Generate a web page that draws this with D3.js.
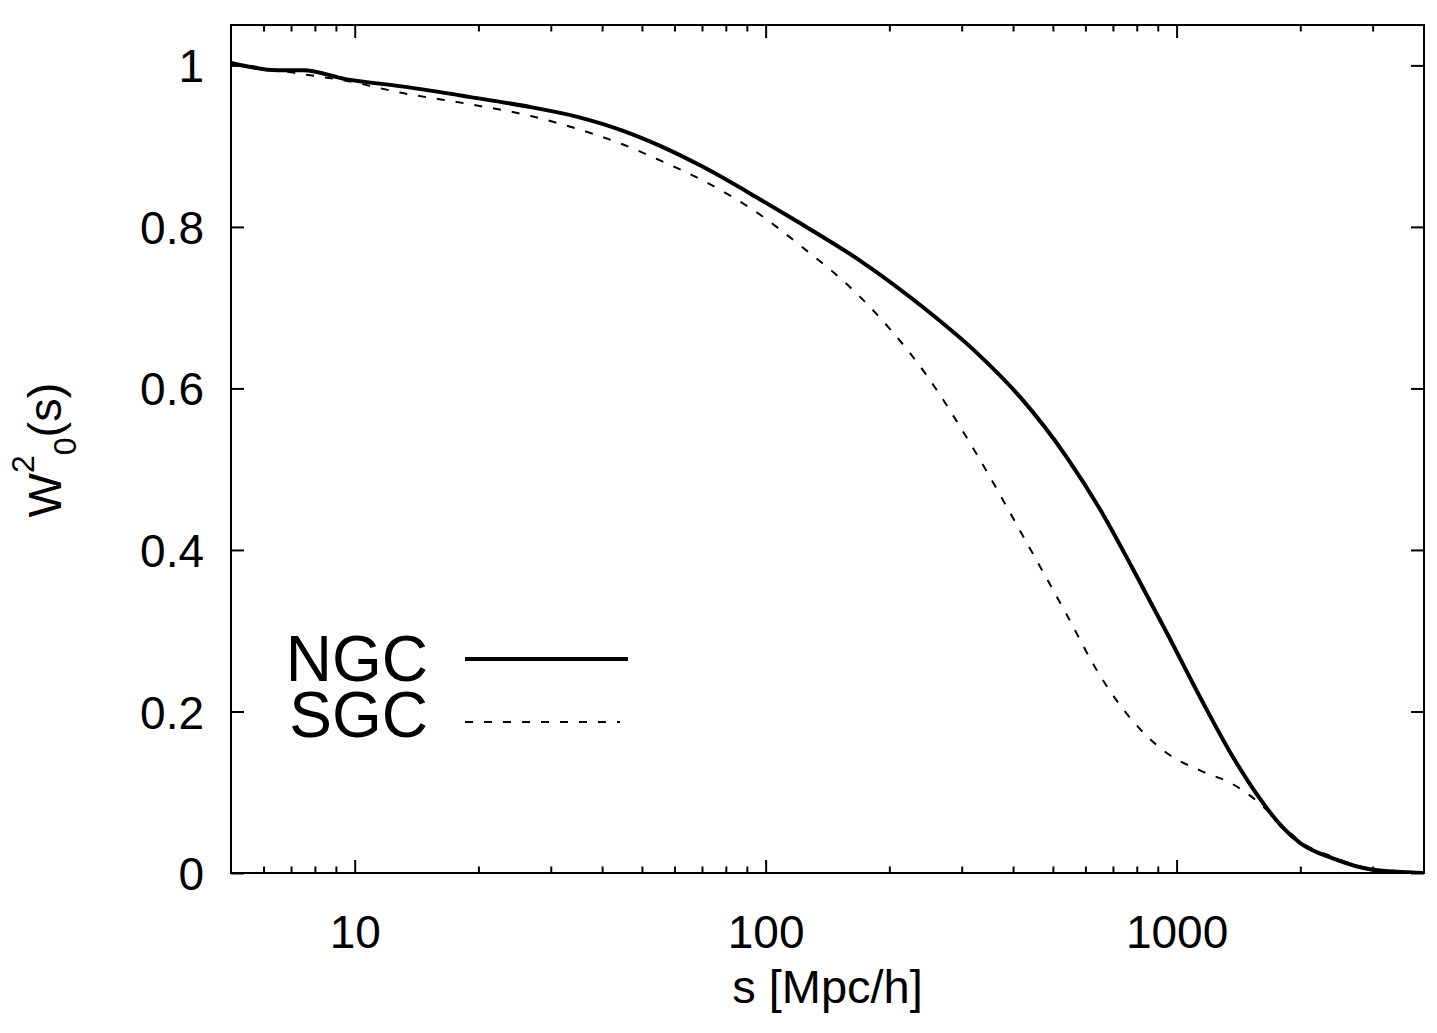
<!DOCTYPE html>
<html>
<head>
<meta charset="utf-8">
<title>W2_0(s)</title>
<script src="https://d3js.org/d3.v7.min.js"></script>
<style>
  body { margin: 0; background: #fff; }
  svg text { font-family: "Liberation Sans", Arial, Helvetica, sans-serif; fill: #000; }
</style>
</head>
<body>
<svg width="1437" height="1033"></svg>
<script>
// separation s [Mpc/h]
var sVals = [5, 6.5, 7.5, 9.5, 13, 19, 27, 35, 45, 55, 70, 97, 120, 170, 245, 325, 420, 540, 650, 780, 950, 1140, 1370, 1570, 1800, 2000, 2400, 3000, 4000];
var ngcVals = [1.003, 0.994, 0.994, 0.983, 0.974, 0.961, 0.948, 0.936, 0.919, 0.901, 0.875, 0.834, 0.806, 0.758, 0.698, 0.645, 0.587, 0.515, 0.451, 0.378, 0.296, 0.218, 0.144, 0.097, 0.058, 0.037, 0.018, 0.004, 0.0];
var sgcVals = [1.003, 0.994, 0.989, 0.981, 0.966, 0.952, 0.937, 0.921, 0.902, 0.883, 0.858, 0.815, 0.779, 0.713, 0.618, 0.520, 0.420, 0.320, 0.245, 0.189, 0.148, 0.127, 0.110, 0.089, 0.060, 0.039, 0.020, 0.005, 0.0];

var xMajor = [10, 100, 1000];
var xMinor = [6, 7, 8, 9, 20, 30, 40, 50, 60, 70, 80, 90, 200, 300, 400, 500, 600, 700, 800, 900, 2000, 3000];
var yTicks = [0, 0.2, 0.4, 0.6, 0.8, 1];

var svg = d3.select("svg"),
    pLeft = 231, pRight = 1424, pTop = 25, pBottom = 873;

var x = d3.scaleLog().domain([5, 4000]).range([pLeft, pRight]),
    y = d3.scaleLinear().domain([0, 1.05]).range([pBottom, pTop]);

function clean(g) {
  g.select(".domain").remove();
  g.selectAll("line").attr("stroke", "#000").attr("stroke-width", 2);
}

// bottom axis, ticks point inward
svg.append("g")
  .attr("transform", "translate(0," + pBottom + ")")
  .call(d3.axisBottom(x).tickValues(xMinor).tickSizeInner(-6.5).tickSizeOuter(0).tickFormat(""))
  .call(clean);
var gx = svg.append("g")
  .attr("transform", "translate(0," + pBottom + ")")
  .call(d3.axisBottom(x).tickValues(xMajor).tickSizeInner(-13).tickSizeOuter(0)
    .tickPadding(42).tickFormat(d3.format("d")))
  .call(clean);
gx.selectAll("text").attr("font-size", 46);

// top axis (mirror)
svg.append("g")
  .attr("transform", "translate(0," + pTop + ")")
  .call(d3.axisTop(x).tickValues(xMinor).tickSizeInner(-6.5).tickSizeOuter(0).tickFormat(""))
  .call(clean);
svg.append("g")
  .attr("transform", "translate(0," + pTop + ")")
  .call(d3.axisTop(x).tickValues(xMajor).tickSizeInner(-13).tickSizeOuter(0).tickFormat(""))
  .call(clean);

// left axis
var gy = svg.append("g")
  .attr("transform", "translate(" + pLeft + ",0)")
  .call(d3.axisLeft(y).tickValues(yTicks).tickSizeInner(-13).tickSizeOuter(0)
    .tickPadding(27).tickFormat(function(d) { return String(+d.toFixed(1)); }))
  .call(clean);
gy.selectAll("text").attr("font-size", 46).attr("dy", "0.36em");

// right axis (mirror)
svg.append("g")
  .attr("transform", "translate(" + pRight + ",0)")
  .call(d3.axisRight(y).tickValues(yTicks).tickSizeInner(-13).tickSizeOuter(0).tickFormat(""))
  .call(clean);

// clip + curves
svg.append("clipPath").attr("id", "plot-clip")
  .append("rect").attr("x", pLeft).attr("y", pTop).attr("width", pRight - pLeft).attr("height", pBottom - pTop);

var line = d3.line()
  .x(function(d) { return x(d[0]); })
  .y(function(d) { return y(d[1]); })
  .curve(d3.curveMonotoneX);

var sgc = sVals.map(function(s, i) { return [s, sgcVals[i]]; }),
    ngc = sVals.map(function(s, i) { return [s, ngcVals[i]]; });

svg.append("path")
  .attr("clip-path", "url(#plot-clip)")
  .attr("d", line(sgc))
  .attr("fill", "none").attr("stroke", "#000").attr("stroke-width", 2)
  .attr("stroke-dasharray", "8,11");

svg.append("path")
  .attr("clip-path", "url(#plot-clip)")
  .attr("d", line(ngc))
  .attr("fill", "none").attr("stroke", "#000").attr("stroke-width", 4)
  .attr("stroke-linejoin", "round");

// frame
svg.append("rect")
  .attr("x", pLeft).attr("y", pTop)
  .attr("width", pRight - pLeft).attr("height", pBottom - pTop)
  .attr("fill", "none").attr("stroke", "#000").attr("stroke-width", 2);

// axis titles
svg.append("text")
  .attr("x", (pLeft + pRight) / 2).attr("y", 1003)
  .attr("text-anchor", "middle").attr("font-size", 47)
  .text("s [Mpc/h]");

var yl = svg.append("text")
  .attr("transform", "translate(61,450) rotate(-90)")
  .attr("text-anchor", "middle").attr("font-size", 47);
yl.append("tspan").text("W");
yl.append("tspan").attr("font-size", 32).attr("dy", -27).text("2");
yl.append("tspan").attr("font-size", 32).attr("dy", 42).text("0");
yl.append("tspan").attr("dy", -15).text("(s)");

// legend
var legend = [
  {name: "NGC", y: 659, base: 681, width: 4, dash: null, x2: 628},
  {name: "SGC", y: 722, base: 737, width: 2, dash: "8,11", x2: 620}
];
legend.forEach(function(l) {
  svg.append("text")
    .attr("x", 428).attr("y", l.base)
    .attr("text-anchor", "end").attr("font-size", 64)
    .text(l.name);
  svg.append("line")
    .attr("x1", 465).attr("x2", l.x2)
    .attr("y1", l.y).attr("y2", l.y)
    .attr("stroke", "#000").attr("stroke-width", l.width)
    .attr("stroke-dasharray", l.dash);
});
</script>
</body>
</html>
